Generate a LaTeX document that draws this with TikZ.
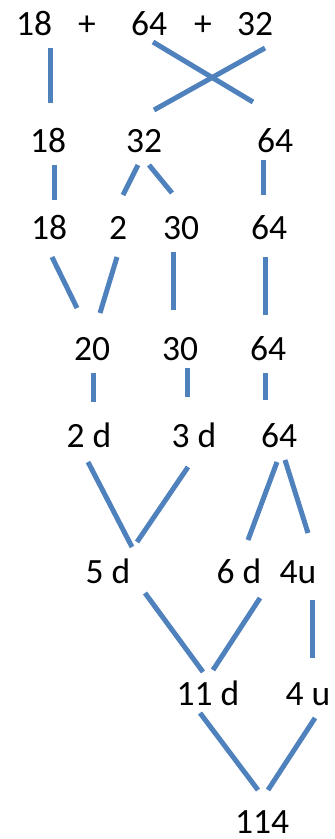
\documentclass[tikz,border=0pt]{standalone}
\usepackage{fontspec}
\setmainfont{Carlito}
\definecolor{lineblue}{HTML}{4F81BD}
\begin{document}
\begin{tikzpicture}[x=1pt,y=-1pt,
  num/.style={anchor=base, inner sep=0pt, text=black, font=\fontsize{35.5}{42}\selectfont},
  link/.style={line width=5pt, draw=lineblue}]
\useasboundingbox (0,0) rectangle (335,839);
% row 1
\node[num] (a18) at (34,35) {18};
\node[num] (ap1) at (87,35) {+};
\node[num] (a64) at (149,35) {64};
\node[num] (ap2) at (203,35) {+};
\node[num] (a32) at (255,35) {32};
% row 2
\node[num] (b18) at (48,152) {18};
\node[num] (b32) at (144,152) {32};
\node[num] (b64) at (275,152) {64};
% row 3
\node[num] (c18) at (49,239) {18};
\node[num] (c2)  at (118,239) {2};
\node[num] (c30) at (181,239) {30};
\node[num] (c64) at (269,239) {64};
% row 4
\node[num] (d20) at (92,360) {20};
\node[num] (d30) at (180,360) {30};
\node[num] (d64) at (268,360) {64};
% row 5
\node[num] (e2d) at (89,447) {2 d};
\node[num] (e3d) at (194,447) {3 d};
\node[num] (e64) at (279,447) {64};
% row 6
\node[num] (f5d) at (108,583) {5 d};
\node[num] (f6d) at (239,583) {6 d};
\node[num] (f4u) at (298,583) {4u};
% row 7
\node[num] (g11d) at (208,705) {11 d};
\node[num] (g4u)  at (308,705) {4 u};
% row 8
\node[num] (h114) at (262,833) {114};
% connectors
\coordinate (l1s) at (50,48);   \coordinate (l1e) at (50,103);
\coordinate (l2s) at (153,42);  \coordinate (l2e) at (253,102);
\coordinate (l3s) at (265,48);  \coordinate (l3e) at (154,110);
\coordinate (l4s) at (54,165);  \coordinate (l4e) at (54,200);
\coordinate (l5s) at (138,165); \coordinate (l5e) at (123,195);
\coordinate (l6s) at (149,165); \coordinate (l6e) at (172,193);
\coordinate (l7s) at (263,160); \coordinate (l7e) at (263,195);
\coordinate (l8s) at (52,257);  \coordinate (l8e) at (77,308);
\coordinate (l9s) at (117,257); \coordinate (l9e) at (100,313);
\coordinate (l10s) at (173,252); \coordinate (l10e) at (173,310);
\coordinate (l11s) at (265,257); \coordinate (l11e) at (265,315);
\coordinate (l12s) at (93,373);  \coordinate (l12e) at (93,402);
\coordinate (l13s) at (187,368); \coordinate (l13e) at (187,397);
\coordinate (l14s) at (265,373); \coordinate (l14e) at (265,400);
\coordinate (l15s) at (88,462);  \coordinate (l15e) at (132,547);
\coordinate (l16s) at (188,467); \coordinate (l16e) at (137,542);
\coordinate (l17s) at (277,462); \coordinate (l17e) at (248,540);
\coordinate (l18s) at (285,460); \coordinate (l18e) at (308,533);
\coordinate (l19s) at (145,593); \coordinate (l19e) at (203,672);
\coordinate (l20s) at (260,598); \coordinate (l20e) at (213,670);
\coordinate (l21s) at (312,600); \coordinate (l21e) at (312,658);
\coordinate (l22s) at (200,713); \coordinate (l22e) at (258,790);
\coordinate (l23s) at (315,718); \coordinate (l23e) at (268,790);
\foreach \i in {1,...,23} {\draw[link] (l\i s) -- (l\i e);}
\end{tikzpicture}
\end{document}
